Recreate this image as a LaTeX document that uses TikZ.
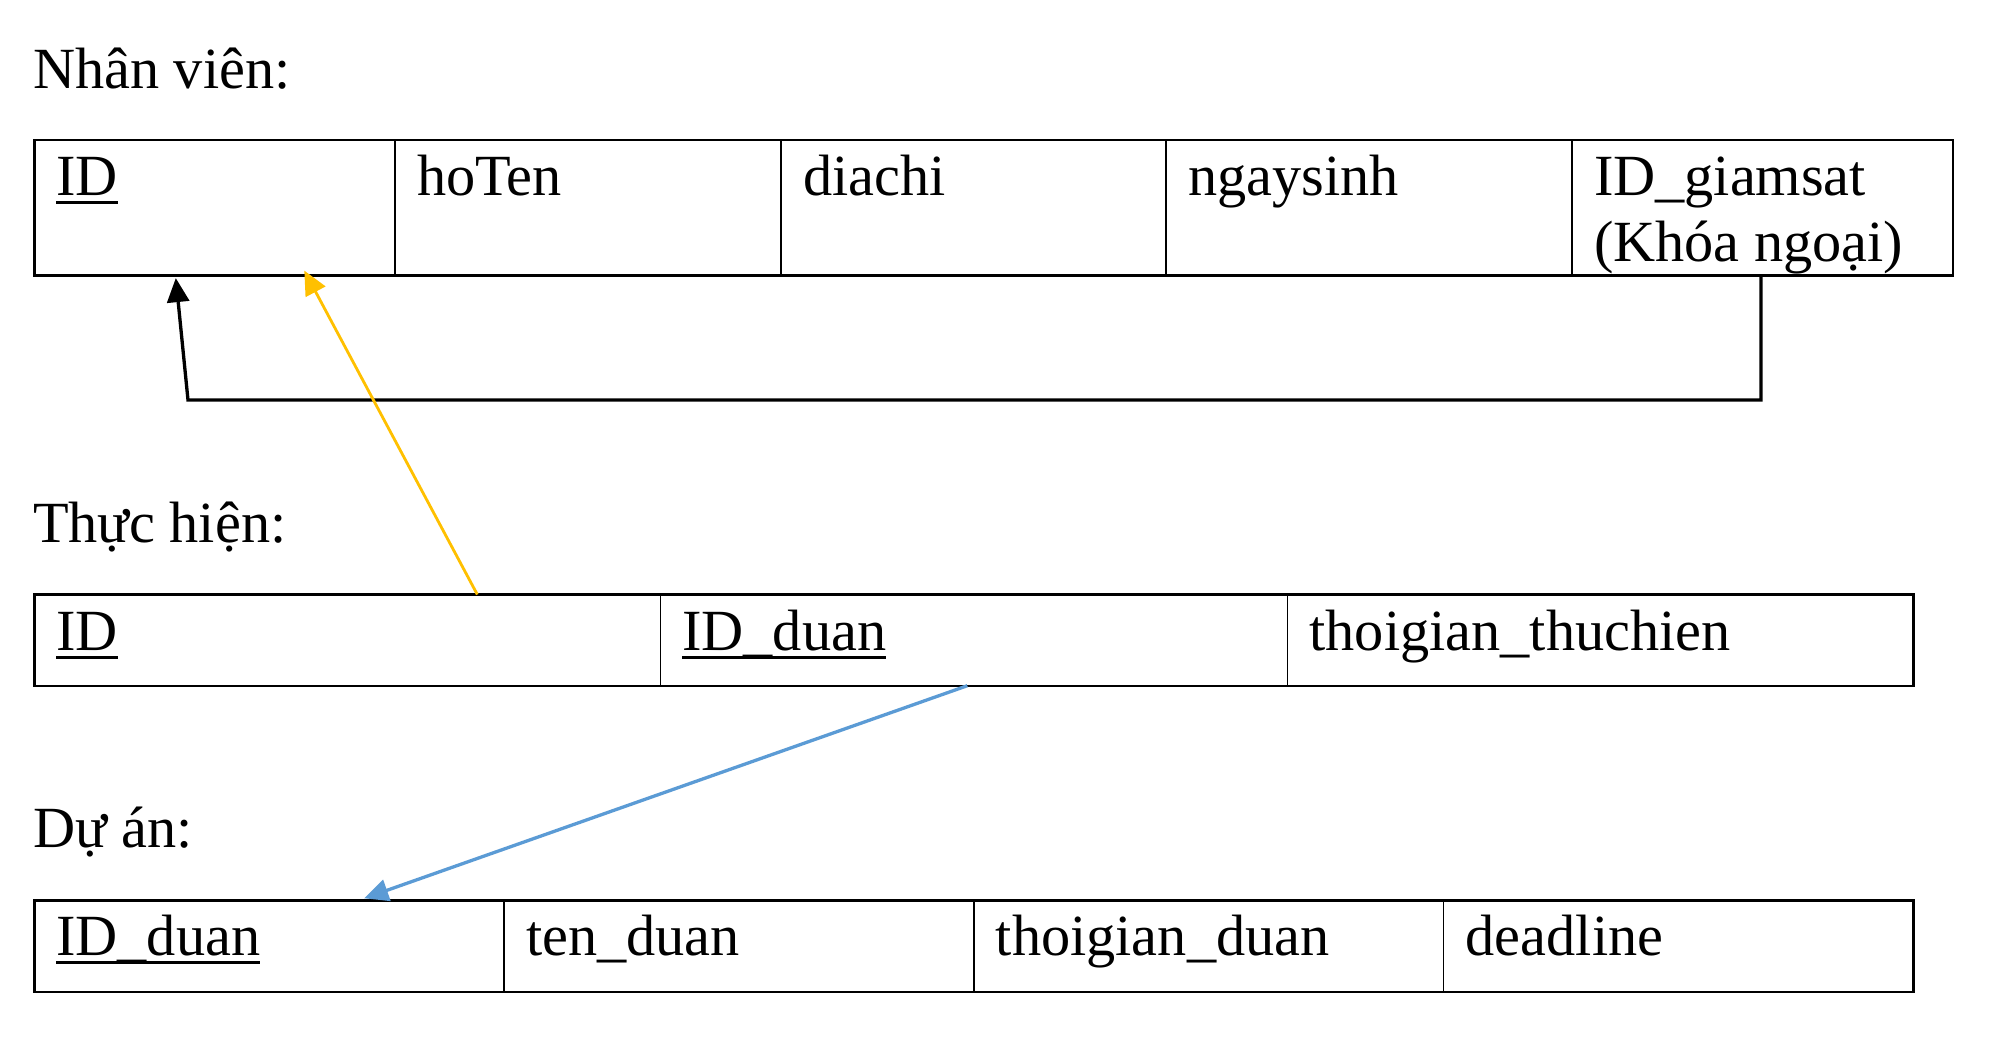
\documentclass[tikz,border=0pt]{standalone}
\usepackage{fontspec}
\setmainfont{Liberation Serif}
\usetikzlibrary{arrows.meta,calc}
\definecolor{ylw}{HTML}{FFC000}
\definecolor{blu}{HTML}{5B9BD5}
\newcommand\keyul[1]{\setbox0\hbox{#1}\rlap{\rule[-8.5pt]{\wd0}{3pt}}\box0}
\begin{document}
\begin{tikzpicture}[x=1pt,y=-1pt,
  cell/.style={draw, line width=1.3pt, inner sep=0pt, outer sep=0pt, anchor=north west},
  frame/.style={draw, line width=2.4pt},
  txt/.style={anchor=base west, inner sep=0pt, outer sep=0pt, font=\fontsize{58.3}{66}\selectfont},
  conn/.style={line width=3.3pt, -{Triangle[length=24pt,width=22pt]}}]
\useasboundingbox (0,0) rectangle (1991,1055);
\fill[white] (0,0) rectangle (1991,1055);
% titles
\node[txt] (lab1) at (33,88) {Nhân viên:};
\node[txt] (lab2) at (33,542) {Thực hiện:};
\node[txt] (lab3) at (33,847) {Dự án:};
% table Nhan vien
\node[cell, minimum width=360.7pt, minimum height=135.9pt] (nv1) at (34.3,139.7) {};
\node[cell, minimum width=386pt, minimum height=135.9pt] (nv2) at (395,139.7) {};
\node[cell, minimum width=385pt, minimum height=135.9pt] (nv3) at (781,139.7) {};
\node[cell, minimum width=406pt, minimum height=135.9pt] (nv4) at (1166,139.7) {};
\node[cell, minimum width=381pt, minimum height=135.9pt] (nv5) at (1572,139.7) {};
\draw[frame] (nv1.north west) rectangle (nv5.south east);
\node[txt] (tnv1) at ($(nv1.north west)+(22,56)$) {\keyul{ID}};
\node[txt] (tnv2) at ($(nv2.north west)+(22,56)$) {hoTen};
\node[txt] (tnv3) at ($(nv3.north west)+(22,56)$) {diachi};
\node[txt] (tnv4) at ($(nv4.north west)+(22,56)$) {ngaysinh};
\node[txt] (tnv5) at ($(nv5.north west)+(22,56)$) {ID\_giamsat};
\node[txt] (tnv5b) at ($(nv5.north west)+(22,122)$) {(Khóa ngoại)};
% table Thuc hien
\node[cell, minimum width=626pt, minimum height=91.2pt] (th1) at (34.3,594.5) {};
\node[cell, minimum width=627.3pt, minimum height=91.2pt] (th2) at (660.3,594.5) {};
\node[cell, minimum width=626pt, minimum height=91.2pt] (th3) at (1287.6,594.5) {};
\draw[frame] (th1.north west) rectangle (th3.south east);
\node[txt] (tth1) at ($(th1.north west)+(22,56)$) {\keyul{ID}};
\node[txt] (tth2) at ($(th2.north west)+(22,56)$) {\keyul{ID\_duan}};
\node[txt] (tth3) at ($(th3.north west)+(22,56)$) {thoigian\_thuchien};
% table Du an
\node[cell, minimum width=469.8pt, minimum height=91.4pt] (da1) at (34.3,900.3) {};
\node[cell, minimum width=469.8pt, minimum height=91.4pt] (da2) at (504.1,900.3) {};
\node[cell, minimum width=469.9pt, minimum height=91.4pt] (da3) at (973.9,900.3) {};
\node[cell, minimum width=469.8pt, minimum height=91.4pt] (da4) at (1443.8,900.3) {};
\draw[frame] (da1.north west) rectangle (da4.south east);
\node[txt] (tda1) at ($(da1.north west)+(22,55)$) {\keyul{ID\_duan}};
\node[txt] (tda2) at ($(da2.north west)+(22,55)$) {ten\_duan};
\node[txt] (tda3) at ($(da3.north west)+(22,55)$) {thoigian\_duan};
\node[txt] (tda4) at ($(da4.north west)+(22,55)$) {deadline};
% connectors
\coordinate (gsout) at ($(nv5.south west)+(189,0)$);
\coordinate (bend) at (188,400);
\coordinate (idin) at ($(nv1.south west)+(141.5,2.5)$);
\draw[conn, black, line join=miter] (gsout) |- (bend) -- (idin);
\coordinate (thid) at ($(th1.north west)+(443,0)$);
\coordinate (nvid) at ($(nv1.south west)+(270,-5)$);
\draw[conn, ylw, line width=2.8pt] (thid) -- (nvid);
\coordinate (thduan) at ($(th2.south west)+(307,0)$);
\coordinate (daid) at ($(da1.north west)+(330,-2)$);
\draw[conn, blu] (thduan) -- (daid);
\end{tikzpicture}
\end{document}
